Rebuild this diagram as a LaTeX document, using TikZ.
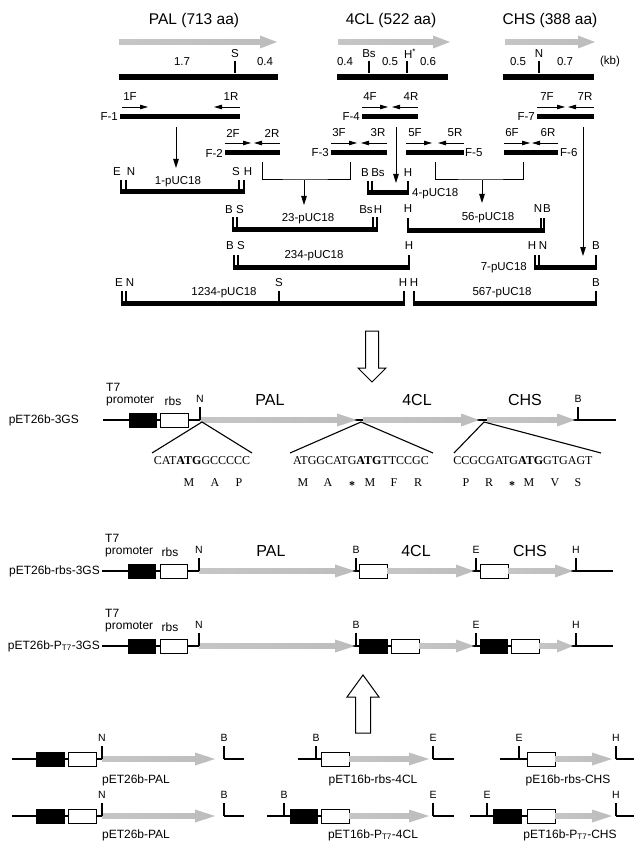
\documentclass[tikz,border=0pt]{standalone}
\usepackage{fontspec}
\setmainfont{Liberation Sans}
\newfontfamily\tms{Liberation Serif}
\usetikzlibrary{arrows.meta}
\newcommand\fsz[1]{\fontsize{#1}{#1}\selectfont}
\newcommand\garr[4]{\shade[left color=gray!45,middle color=gray!68,right color=gray!52] (#1,#3-2.8) -- (#2-#4,#3-2.8) -- (#2-#4,#3-6.5) -- (#2,#3) -- (#2-#4,#3+6.5) -- (#2-#4,#3+2.8) -- (#1,#3+2.8) -- cycle;}
\newcommand\bbx[3]{\filldraw[line width=0.8pt,fill=black] (#1,#3-7) rectangle (#2,#3+7);}
\newcommand\wbx[3]{\filldraw[line width=1pt,fill=white] (#1,#3-7) rectangle (#2,#3+7);}
\newcommand\mytick[2]{\draw[line width=1.1pt] (#1,#2-2.5) -- (#1,#2-12);}
\newcommand\lsite[3]{\draw[line width=1.1pt] (#1,#2) -- (#1,#2-13); \node[site] at (#1,#2-21) {#3};}
\newcommand\stopmark{\raisebox{-3pt}{\textbf{*}}}
\begin{document}
\begin{tikzpicture}[x=1pt,y=-1pt,
 lbl/.style={inner sep=0pt,font=\fsz{11.5}},
 ttl/.style={inner sep=0pt,font=\fsz{15.5}},
 gene/.style={inner sep=0pt,font=\fsz{16}},
 nm/.style={inner sep=0pt,font=\fsz{12}},
 site/.style={inner sep=0pt,font=\fsz{10.5}},
 sq/.style={inner sep=0pt,font=\tms\fsz{12}},
 bigbar/.style={line width=6.5pt},
 fbar/.style={line width=5pt},
 ln/.style={line width=1.1pt},
 prim/.style={line width=0.8pt,-{Triangle[length=8pt,width=4.5pt]}},
 conn/.style={line width=1pt},
 conna/.style={line width=1pt,-{Triangle[length=9pt,width=5.5pt]}},
 hollow/.style={draw,line width=1pt,fill=white,line join=miter}]
\useasboundingbox (0,0) rectangle (638,850);

% ---------- titles and genes ----------
\node[ttl] (tPAL) at (194,20) {PAL (713 aa)};
\node[ttl] (t4CL) at (391,20) {4CL (522 aa)};
\node[ttl] (tCHS) at (550,20) {CHS (388 aa)};
\garr{119}{277}{42}{17}
\garr{338}{450}{42}{17}
\garr{505}{595}{42}{17}
\draw[bigbar] (119,77) -- (278,77);
\draw[bigbar] (337,77) -- (448,77);
\draw[bigbar] (503,77) -- (594,77);
\node[lbl] at (182,62) {1.7};
\node[lbl] at (235,54) {S}; \draw[ln] (235,61) -- (235,73);
\node[lbl] at (265,62) {0.4};
\node[lbl] at (345,62) {0.4};
\node[lbl] at (369,54) {Bs}; \draw[ln] (369,61) -- (369,73);
\node[lbl] at (390,62) {0.5};
\node[lbl] at (410,54) {H\textsuperscript{*}}; \draw[ln] (407,61) -- (407,73);
\node[lbl] at (428,62) {0.6};
\node[lbl] at (518,62) {0.5};
\node[lbl] at (539,54) {N}; \draw[ln] (539,61) -- (539,73);
\node[lbl] at (565,62) {0.7};
\node[lbl] at (610,62) {(kb)};

% ---------- PCR fragments row 1 ----------
\draw[fbar] (120,117) -- (240,117);
\node[lbl,anchor=east] (F1) at (118,117) {F-1};
\draw[prim] (122,107) -- (148,107); \node[lbl] at (130,97) {1F};
\draw[prim] (240,107) -- (214,107); \node[lbl] at (231,97) {1R};
\draw[fbar] (362,117) -- (418,117);
\node[lbl,anchor=east] (F4) at (360,117) {F-4};
\draw[prim] (362,107) -- (388,107); \node[lbl] at (370,97) {4F};
\draw[prim] (418,107) -- (392,107); \node[lbl] at (411,97) {4R};
\draw[fbar] (537,117) -- (594,117);
\node[lbl,anchor=east] (F7) at (535,117) {F-7};
\draw[prim] (537,107) -- (565,107); \node[lbl] at (547,97) {7F};
\draw[prim] (594,107) -- (568,107); \node[lbl] at (585,97) {7R};

% ---------- PCR fragments row 2 ----------
\draw[fbar] (225,153) -- (280,153);
\node[lbl,anchor=east] (F2) at (223,153) {F-2};
\draw[prim] (225,143) -- (251,143); \node[lbl] at (233,133) {2F};
\draw[prim] (280,143) -- (254,143); \node[lbl] at (272,133) {2R};
\draw[fbar] (331,153) -- (387,153);
\node[lbl,anchor=east] (F3) at (329,153) {F-3};
\draw[prim] (331,143) -- (357,143); \node[lbl] at (339,133) {3F};
\draw[prim] (387,143) -- (361,143); \node[lbl] at (378,133) {3R};
\draw[fbar] (406,153) -- (464,153);
\node[lbl,anchor=west] (F5) at (465,153) {F-5};
\draw[prim] (406,143) -- (432,143); \node[lbl] at (415,133) {5F};
\draw[prim] (464,143) -- (438,143); \node[lbl] at (455,133) {5R};
\draw[fbar] (504,153) -- (558,153);
\node[lbl,anchor=west] (F6) at (560,153) {F-6};
\draw[prim] (504,143) -- (530,143); \node[lbl] at (512,133) {6F};
\draw[prim] (558,143) -- (532,143); \node[lbl] at (548,133) {6R};

% ---------- connectors ----------
\coordinate (f1d) at (176,127); \coordinate (p1u) at (176,168);
\draw[conna] (f1d) -- (p1u);
\coordinate (f2d) at (262,162); \coordinate (f3d) at (350,162);
\coordinate (j23) at (304,180); \coordinate (p23u) at (304,205);
\draw[conn] (f2d) |- (j23) -| (f3d);
\draw[conna] (j23) -- (p23u);
\coordinate (f4d) at (396,127); \coordinate (p4u) at (396,183);
\draw[conna] (f4d) -- (p4u);
\coordinate (f5d) at (435,162); \coordinate (f6d) at (523,162);
\coordinate (j56) at (482,180); \coordinate (p56u) at (482,203);
\draw[conn] (f5d) |- (j56) -| (f6d);
\draw[conna] (j56) -- (p56u);
\coordinate (f7d) at (583,127); \coordinate (p7u) at (583,256);
\draw[conna] (f7d) -- (p7u);

% ---------- pUC18 clones ----------
\draw[fbar] (120,192) -- (245,192);
\mytick{121}{192}\mytick{126}{192}\mytick{239}{192}\mytick{244}{192}
\node[lbl] at (117,172) {E}; \node[lbl] at (131,172) {N};
\node[lbl] at (236,172) {S}; \node[lbl] at (248,172) {H};
\node[lbl] (p1) at (178,182) {1-pUC18};

\draw[fbar] (232,229) -- (378,229);
\mytick{233}{229}\mytick{237}{229}\mytick{373}{229}\mytick{377}{229}
\node[lbl] at (229,210) {B}; \node[lbl] at (240,210) {S};
\node[lbl] at (366,210) {Bs}; \node[lbl] at (378,210) {H};
\node[lbl] (p23) at (308,219) {23-pUC18};

\draw[fbar] (367,193) -- (409,193);
\mytick{368}{193}\mytick{372}{193}\mytick{408}{193}
\node[lbl] at (365,173) {B}; \node[lbl] at (378,173) {Bs}; \node[lbl] at (408,173) {H};
\node[lbl,anchor=west] (p4) at (412,194) {4-pUC18};

\draw[fbar] (407,230) -- (545,230);
\mytick{408}{230}\mytick{541}{230}\mytick{544}{230}
\node[lbl] at (408,209) {H}; \node[lbl] at (538,209) {N}; \node[lbl] at (547,209) {B};
\node[lbl] (p56) at (488,218) {56-pUC18};

\draw[fbar] (233,267) -- (410,267);
\mytick{234}{267}\mytick{238}{267}\mytick{409}{267}
\node[lbl] at (230,246) {B}; \node[lbl] at (241,246) {S}; \node[lbl] at (409,246) {H};
\node[lbl] (p234) at (314,256) {234-pUC18};

\draw[fbar] (534,267) -- (597,267);
\mytick{535}{267}\mytick{539}{267}\mytick{596}{267}
\node[lbl] at (532,246) {H}; \node[lbl] at (543,246) {N}; \node[lbl] at (596,246) {B};
\node[lbl,anchor=east] (p7) at (527,268) {7-pUC18};

\draw[fbar] (121,303) -- (405,303);
\mytick{122}{303}\mytick{126}{303}\mytick{279}{303}\mytick{404}{303}
\node[lbl] at (119,283) {E}; \node[lbl] at (130,283) {N};
\node[lbl] at (279,283) {S}; \node[lbl] at (403,283) {H};
\node[lbl] (p1234) at (224,293) {1234-pUC18};

\draw[fbar] (413,303) -- (597,303);
\mytick{414}{303}\mytick{596}{303}
\node[lbl] at (414,283) {H}; \node[lbl] at (596,283) {B};
\node[lbl] (p567) at (502,293) {567-pUC18};

% ---------- big hollow arrows ----------
\draw[hollow] (365.5,331) -- (378.5,331) -- (378.5,368) -- (386,368) -- (372,382) -- (358,368) -- (365.5,368) -- cycle;
\draw[hollow] (355.5,733) -- (370.5,733) -- (370.5,697) -- (379,697) -- (363,675) -- (347,697) -- (355.5,697) -- cycle;

% ---------- pET26b-3GS ----------
\node[nm,anchor=east] (r1) at (79,420) {pET26b-3GS};
\draw[ln] (103,420) -- (616,420);
\bbx{129}{156}{420} \wbx{160}{188}{420}
\garr{200}{357}{420}{20}
\garr{363}{479}{420}{18}
\garr{487}{575}{420}{18}
\draw[line width=1.1pt] (200,420) -- (200,407); \node[site] at (200,399) {N};
\draw[line width=1.1pt] (578,420) -- (578,407); \node[site] at (578,399) {B};
\node[nm,anchor=west] at (106,387) {T7};
\node[nm,anchor=west] at (106,401) {promoter};
\node[nm] at (173,401) {rbs};
\node[gene] at (270,400) {PAL};
\node[gene] at (417,400) {4CL};
\node[gene] at (525,400) {CHS};
\coordinate (jN) at (202,422); \coordinate (jA) at (361,422); \coordinate (jB) at (484,422);
\coordinate (s1l) at (152,453); \coordinate (s1r) at (252,453);
\coordinate (s2l) at (290,453); \coordinate (s2r) at (433,453);
\coordinate (s3l) at (454,453); \coordinate (s3r) at (601,453);
\draw[ln] (s1l) -- (jN) -- (s1r);
\draw[ln] (s2l) -- (jA) -- (s2r);
\draw[ln] (s3l) -- (jB) -- (s3r);
\node[sq] (s1) at (202,461) {CAT\textbf{ATG}GCCCCC};
\node[sq] (s2) at (361,461) {ATGGCATG\textbf{ATG}TTCCGC};
\node[sq] (s3) at (523,461) {CCGCGATG\textbf{ATG}GTGAGT};
\foreach \x/\a in {189/M,215/A,239/P,303/M,328/A,352/\stopmark,370/M,394/F,418/R,466/P,489/R,512/\stopmark,529/M,555/V,578/S}
  \node[sq,anchor=base] at (\x,486) {\a};

% ---------- pET26b-rbs-3GS ----------
\node[nm,anchor=east] (r2) at (100,571) {pET26b-rbs-3GS};
\draw[ln] (102,571) -- (613,571);
\bbx{128}{155}{571} \wbx{160}{187}{571}
\garr{199}{355}{571}{20}
\wbx{359}{387}{571}
\garr{387}{474}{571}{18}
\wbx{480}{508}{571}
\garr{508}{573}{571}{18}
\lsite{199}{571}{N} \lsite{356}{571}{B} \lsite{476}{571}{E} \lsite{576}{571}{H}
\node[nm,anchor=west] at (105,538) {T7};
\node[nm,anchor=west] at (105,552) {promoter};
\node[nm] at (170,552) {rbs};
\node[gene] at (271,551) {PAL};
\node[gene] at (416,551) {4CL};
\node[gene] at (530,551) {CHS};

% ---------- pET26b-PT7-3GS ----------
\node[nm,anchor=east] (r3) at (100,646) {pET26b-P\textsubscript{T7}-3GS};
\draw[ln] (102,646) -- (613,646);
\bbx{128}{155}{646} \wbx{160}{187}{646}
\garr{199}{355}{646}{20}
\bbx{359}{387}{646} \wbx{391}{419}{646}
\garr{419}{474}{646}{18}
\bbx{480}{507}{646} \wbx{511}{539}{646}
\garr{539}{573}{646}{16}
\lsite{199}{646}{N} \lsite{356}{646}{B} \lsite{476}{646}{E} \lsite{576}{646}{H}
\node[nm,anchor=west] at (105,613) {T7};
\node[nm,anchor=west] at (105,627) {promoter};
\node[nm] at (170,627) {rbs};

% ---------- single-gene plasmids, row A ----------
\draw[ln] (12,759) -- (102,759);
\bbx{36}{64}{759} \wbx{68}{96}{759}
\garr{102}{215}{759}{20}
\lsite{102}{759}{N} \lsite{224}{759}{B}
\draw[ln] (224,759) -- (244,759);
\node[nm] (pA1) at (136,780) {pET26b-PAL};

\draw[ln] (298,759) -- (321,759);
\lsite{316}{759}{B}
\wbx{321}{349}{759}
\garr{349}{429}{759}{20}
\lsite{433}{759}{E}
\draw[ln] (433,759) -- (454,759);
\node[nm] (pA2) at (373,780) {pET16b-rbs-4CL};

\draw[ln] (500,759) -- (527,759);
\lsite{519}{759}{E}
\wbx{527}{555}{759}
\garr{555}{612}{759}{20}
\lsite{616}{759}{H}
\draw[ln] (616,759) -- (634,759);
\node[nm] (pA3) at (568,780) {pE16b-rbs-CHS};

% ---------- single-gene plasmids, row B ----------
\draw[ln] (12,816) -- (102,816);
\bbx{36}{64}{816} \wbx{68}{96}{816}
\garr{102}{215}{816}{20}
\lsite{102}{816}{N} \lsite{224}{816}{B}
\draw[ln] (224,816) -- (244,816);
\node[nm] (pB1) at (136,835) {pET26b-PAL};

\draw[ln] (267,816) -- (349,816);
\lsite{284}{816}{B}
\bbx{290}{317}{816} \wbx{321}{349}{816}
\garr{349}{429}{816}{20}
\lsite{433}{816}{E}
\draw[ln] (433,816) -- (454,816);
\node[nm] (pB2) at (373,835) {pET16b-P\textsubscript{T7}-4CL};

\draw[ln] (470,816) -- (555,816);
\lsite{487}{816}{E}
\bbx{493}{521}{816} \wbx{527}{555}{816}
\garr{555}{612}{816}{20}
\lsite{616}{816}{H}
\draw[ln] (616,816) -- (634,816);
\node[nm] (pB3) at (570,835) {pET16b-P\textsubscript{T7}-CHS};
\end{tikzpicture}
\end{document}
